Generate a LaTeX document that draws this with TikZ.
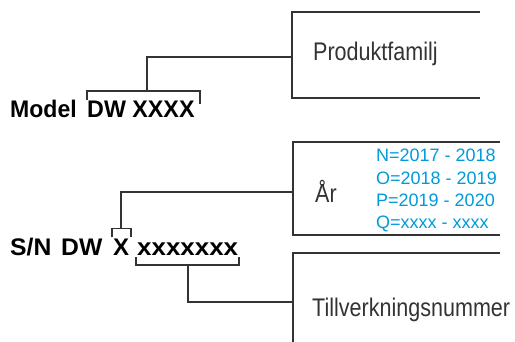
\documentclass[tikz,border=0pt]{standalone}
\usepackage{fontspec}
\setmainfont{Liberation Sans}
\definecolor{linegray}{HTML}{333333}
\definecolor{textgray}{HTML}{333333}
\definecolor{yearblue}{RGB}{0,154,218}
\tikzset{
  conn/.style={draw=linegray, line width=1.1pt, line join=miter},
  boldtxt/.style={anchor=base west, inner sep=0pt, text=black, font=\fontsize{24}{28}\selectfont\bfseries},
  lighttxt/.style={anchor=base west, inner sep=0pt, text=textgray, font=\fontsize{25.5}{30}\selectfont},
  bluetxt/.style={anchor=base west, inner sep=0pt, text=yearblue, font=\fontsize{18}{22}\selectfont}
}
\begin{document}
\begin{tikzpicture}[x=1pt,y=-1pt]
\useasboundingbox (0,0) rectangle (515,342);

% ---------- Model line ----------
\node[boldtxt] (model) at (10,118) {\scalebox{0.96}[1]{Model}};
\node[boldtxt] (modeldw) at (87,118) {\scalebox{0.97}[1]{DW XXXX}};
\coordinate (mbL) at (87,100.5);
\coordinate (mbR) at (200,104);
\coordinate (mbTL) at (87,91);
\coordinate (mbTR) at (200,91);
\coordinate (mbMid) at (147,91);
\coordinate (mbCorner) at (147,57);

% Produktfamilj frame
\coordinate (pfTop) at (480,12);
\coordinate (pfTL) at (292,12);
\coordinate (pfBL) at (292,98);
\coordinate (pfBot) at (480,98);
\coordinate (pfIn) at (292,57);
\node[lighttxt] (pf) at (313,61) {\scalebox{0.845}[1]{Produktfamilj}};

\draw[conn] (mbL) -- (mbTL) -- (mbTR) -- (mbR);
\draw[conn] (mbMid) -- (mbCorner) -- (pfIn);
\draw[conn] (pfTop) -- (pfTL) -- (pfBL) -- (pfBot);

% ---------- S/N line ----------
\node[boldtxt] (sn) at (10,256) {\scalebox{1.03}[1]{S/N}};
\node[boldtxt] (sndw) at (61,256) {\scalebox{1.03}[1]{DW}};
\node[boldtxt] (snx) at (113,256) {X};
\node[boldtxt] (snxs) at (137,256) {\scalebox{1.08}[1]{xxxxxxx}};

% box over X
\coordinate (xbL) at (112,237.5);
\coordinate (xbTL) at (112,228.5);
\coordinate (xbTR) at (131,228.5);
\coordinate (xbR) at (131,237.5);
\coordinate (xbMid) at (121,228.5);
\coordinate (xbCorner) at (121,192);

% År frame
\coordinate (arTop) at (500,142);
\coordinate (arTL) at (293,142);
\coordinate (arBL) at (293,235);
\coordinate (arBot) at (500,235);
\coordinate (arIn) at (293,192);
\node[lighttxt] (ar) at (315,203) {\scalebox{0.845}[1]{År}};
\node[bluetxt] (yN) at (376,162) {N=2017 - 2018};
\node[bluetxt] (yO) at (376,185) {O=2018 - 2019};
\node[bluetxt] (yP) at (376,206.5) {P=2019 - 2020};
\node[bluetxt] (yQ) at (376,228.5) {Q=xxxx - xxxx};

\draw[conn] (xbL) -- (xbTL) -- (xbTR) -- (xbR);
\draw[conn] (xbMid) -- (xbCorner) -- (arIn);
\draw[conn] (arTop) -- (arTL) -- (arBL) -- (arBot);

% bracket under xxxxxxx
\coordinate (ubL) at (136,257.5);
\coordinate (ubBL) at (136,265);
\coordinate (ubBR) at (239,265);
\coordinate (ubR) at (239,257.5);
\coordinate (ubMid) at (188,265);
\coordinate (ubCorner) at (188,302);

% Tillverkningsnummer frame
\coordinate (tvTop) at (500,253);
\coordinate (tvTL) at (293,253);
\coordinate (tvBL) at (293,343);
\coordinate (tvIn) at (293,302);
\node[lighttxt] (tv) at (312,316.5) {\scalebox{0.845}[1]{Tillverkningsnummer}};

\draw[conn] (ubL) -- (ubBL) -- (ubBR) -- (ubR);
\draw[conn] (ubMid) -- (ubCorner) -- (tvIn);
\draw[conn] (tvTop) -- (tvTL) -- (tvBL);
\end{tikzpicture}
\end{document}
